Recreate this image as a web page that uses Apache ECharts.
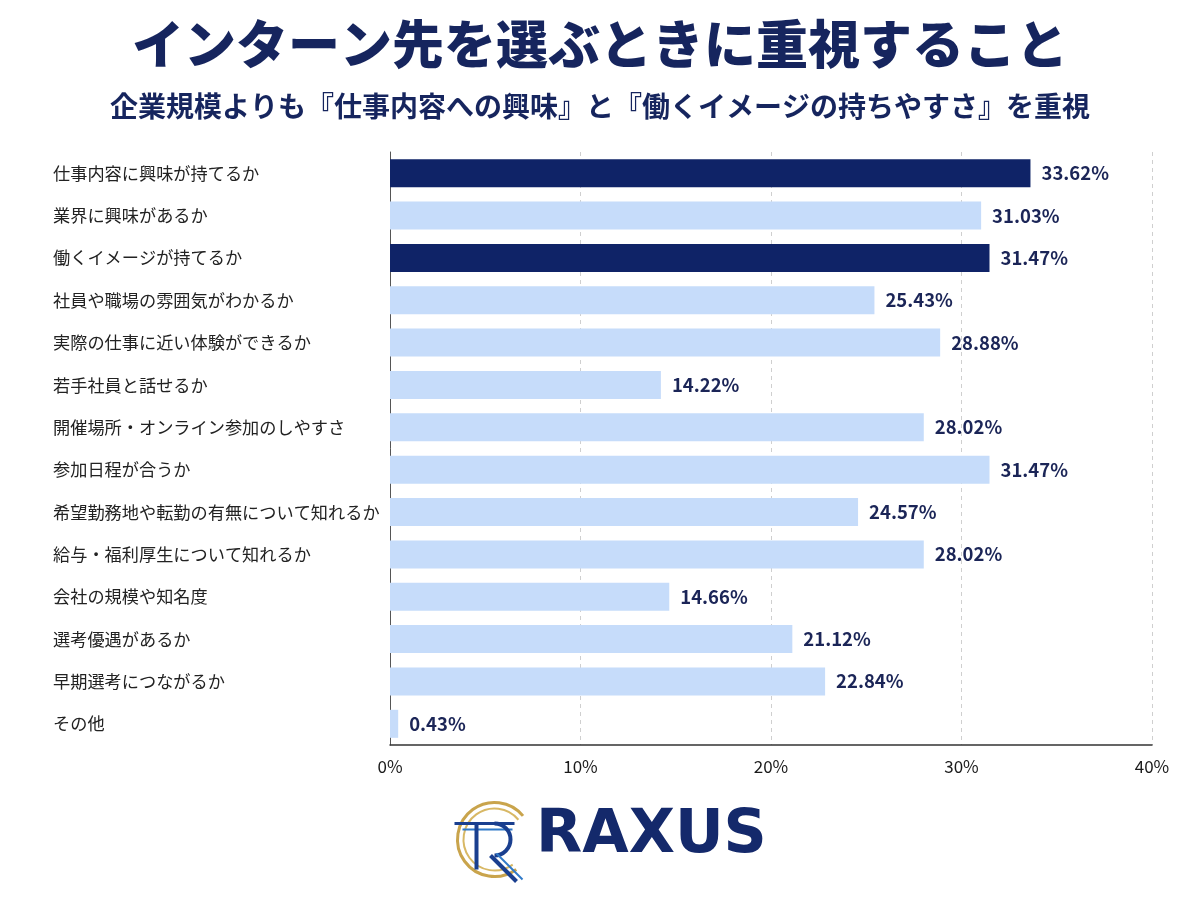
<!DOCTYPE html>
<html><head><meta charset="utf-8">
<script src="https://cdn.jsdelivr.net/npm/echarts@6/dist/echarts.min.js"></script>
<style>html,body{margin:0;padding:0;background:#fff}#c{width:1200px;height:900px}</style>
</head><body><div id="c"></div>
<script>
const categories = ['仕事内容に興味が持てるか','業界に興味があるか','働くイメージが持てるか','社員や職場の雰囲気がわかるか','実際の仕事に近い体験ができるか','若手社員と話せるか','開催場所・オンライン参加のしやすさ','参加日程が合うか','希望勤務地や転勤の有無について知れるか','給与・福利厚生について知れるか','会社の規模や知名度','選考優遇があるか','早期選考につながるか','その他'];
const values = [33.62,31.03,31.47,25.43,28.88,14.22,28.02,31.47,24.57,28.02,14.66,21.12,22.84,0.43];
const highlighted = [true,false,true,false,false,false,false,false,false,false,false,false,false,false];
const xTicks = [0,10,20,30,40];
const titleText = 'インターン先を選ぶときに重視すること';
const subtitleText = '企業規模よりも『仕事内容への興味』と『働くイメージの持ちやすさ』を重視';

const NAVY = '#0f2367', LIGHT = '#c6dcfa', TXT = '#1b2557';
const FONT = '"Noto Sans CJK JP","Noto Sans",sans-serif';
const chart = echarts.init(document.getElementById('c'));
const PI = Math.PI;
chart.setOption({
  backgroundColor:'#fff',
  animation:false,
  title:[
    {text:titleText,left:'center',top:13,textStyle:{fontFamily:FONT,fontSize:52,fontWeight:900,color:'#16255e'}},
    {text:subtitleText,left:'center',top:87,textStyle:{fontFamily:FONT,fontSize:28,fontWeight:'bold',color:'#16255e'}}
  ],
  grid:{left:390,right:48,top:152,bottom:155,containLabel:false},
  xAxis:{type:'value',min:xTicks[0],max:xTicks[xTicks.length-1],interval:10,
    axisLine:{show:true,lineStyle:{color:'#333',width:1.5}},
    axisTick:{show:false},
    axisLabel:{formatter:v=>v+'%',fontFamily:FONT,fontSize:17,color:'#1a1a1a',margin:13},
    splitLine:{show:true,lineStyle:{type:[4,4],color:'#cfcfcf'}}},
  yAxis:{type:'category',inverse:true,data:categories,
    axisLine:{show:true,lineStyle:{color:'#555',width:1}},
    axisTick:{show:false},
    axisLabel:{align:'left',margin:337,fontFamily:FONT,fontSize:17.2,color:'#222'}},
  series:[{type:'bar',barWidth:28,
    data:values.map((v,i)=>({value:v,itemStyle:{color:highlighted[i]?NAVY:LIGHT}})),
    label:{show:true,position:'right',distance:11,formatter:p=>p.value.toFixed(2)+'%',
      fontFamily:FONT,fontSize:18.5,fontWeight:'bold',color:TXT}}],
  graphic:[
    {type:'group',left:452,top:800,children:[
      {type:'arc',shape:{cx:40,cy:40,r:37,startAngle:0.3*PI,endAngle:1.78*PI,clockwise:true},style:{stroke:'#c9a44c',lineWidth:3,fill:null}},
      {type:'arc',shape:{cx:40,cy:40,r:31,startAngle:0.3*PI,endAngle:1.78*PI,clockwise:true},style:{stroke:'#d8b865',lineWidth:2,fill:null}},
      {type:'polyline',shape:{points:[[0,24],[60,24]]},style:{stroke:'#1a3f8f',lineWidth:3}},
      {type:'polyline',shape:{points:[[8,30],[58,30]]},style:{stroke:'#2f79c8',lineWidth:2}},
      {type:'arc',shape:{cx:40,cy:40,r:16,startAngle:-0.5*PI,endAngle:0.5*PI},style:{stroke:'#1a3f8f',lineWidth:4,fill:null}},
      {type:'polyline',shape:{points:[[22,24],[22,70]]},style:{stroke:'#1a3f8f',lineWidth:4}},
      {type:'polyline',shape:{points:[[36,56],[62,82]]},style:{stroke:'#1a3f8f',lineWidth:4}},
      {type:'polyline',shape:{points:[[42,54],[68,80]]},style:{stroke:'#2f79c8',lineWidth:2}}
    ]},
    {type:'text',left:536,top:806,style:{text:'RAXUS',fontFamily:'"DejaVu Sans",sans-serif',fontSize:60,fontWeight:'bold',fill:'#14296b'}}
  ]
});
</script></body></html>
